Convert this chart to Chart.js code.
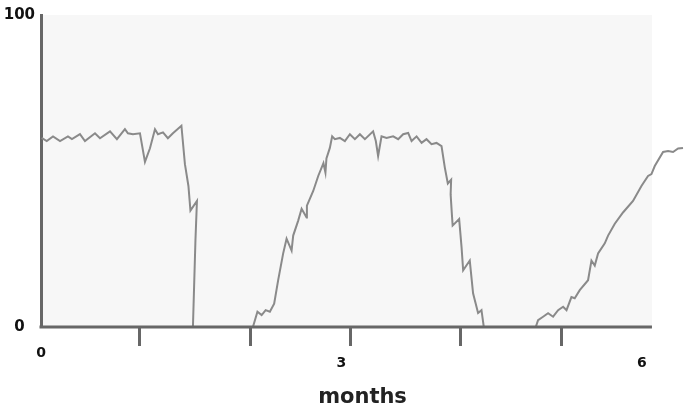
<!DOCTYPE html>
<html>
<head>
<meta charset="utf-8">
<script src="https://cdn.jsdelivr.net/npm/chart.js@4"></script>
<style>
  body { margin: 0; background: #fff; }
</style>
</head>
<body>
<canvas id="chart" width="685" height="408"></canvas>
<script>
// valores (meses / porcentaje)
const months = [
  0.007, 0.057, 0.12, 0.19, 0.269, 0.309, 0.389, 0.439, 0.539, 0.589,
  0.689, 0.758, 0.838, 0.868, 0.918, 0.988, 1.038, 1.088, 1.138, 1.168,
  1.218, 1.267, 1.317, 1.402, 1.437, 1.472, 1.492, 1.557, 1.542, 1.517,
  2.116, 2.161, 2.203, 2.243, 2.285, 2.328, 2.368, 2.418, 2.452, 2.502,
  2.518, 2.568, 2.602, 2.652, 2.655, 2.718, 2.768, 2.82, 2.84, 2.85,
  2.884, 2.907, 2.934, 2.984, 3.034, 3.084, 3.134, 3.184, 3.234, 3.316,
  3.343, 3.366, 3.4, 3.45, 3.516, 3.566, 3.616, 3.666, 3.7, 3.75,
  3.8, 3.849, 3.899, 3.949, 3.999, 4.032, 4.062, 4.095, 4.09, 4.1,
  4.11, 4.175, 4.199, 4.215, 4.281, 4.314, 4.364, 4.398, 4.421,
  4.94, 4.963, 5.013, 5.063, 5.113, 5.163, 5.213, 5.247, 5.296, 5.329,
  5.379, 5.462, 5.496, 5.529, 5.562, 5.629, 5.662, 5.729, 5.811, 5.911,
  5.995, 6.061, 6.095, 6.128, 6.211, 6.261, 6.311, 6.361, 6.41
];
const values = [
  60.6, 59.6, 61.1, 59.6, 61.1, 60.2, 61.8, 59.6, 62.1, 60.5,
  62.7, 60.2, 63.4, 62.1, 61.8, 62.1, 52.9, 57.3, 63.4, 61.8,
  62.4, 60.5, 62.1, 64.5, 52.2, 45.2, 37.3, 40.4, 27.7, 0,
  0, 4.9, 3.8, 5.4, 4.9, 7.5, 15.0, 23.6, 28.3, 24.5,
  29.3, 34.1, 37.9, 35.1, 38.9, 43.6, 48.4, 52.5, 49.5, 54.0,
  57.4, 61.1, 60.2, 60.6, 59.6, 61.8, 60.2, 61.8, 60.2, 62.7,
  59.6, 54.8, 61.1, 60.6, 61.1, 60.2, 61.8, 62.2, 59.6, 61.1,
  59.0, 60.2, 58.6, 59.0, 58.0, 51.1, 46.0, 47.2, 42.5, 37.3,
  32.5, 34.6, 25.6, 18.2, 21.3, 10.8, 4.5, 5.4, 0,
  0, 2.2, 3.3, 4.4, 3.3, 5.4, 6.5, 5.4, 9.6, 9.2,
  11.8, 15.0, 21.3, 19.7, 23.6, 26.8, 29.3, 33.1, 36.7, 40.4,
  45.2, 48.4, 49.0, 51.6, 56.1, 56.4, 56.1, 57.2, 57.4
];

const xLabelTicks = [0, 3, 6];
const xMarkTicks = [0.98, 2.09, 3.09, 4.19, 5.2];
const yTicks = [0, 100];
const axisEnd = 6.1;

const axisColor = "#676767";
const textFont = "'DejaVu Sans', Verdana, sans-serif";

// fondo gris claro y línea del eje x (termina antes que la curva)
const paperPlugin = {
  id: "paper",
  beforeDraw(chart) {
    const { ctx, chartArea: a, scales: { x } } = chart;
    ctx.save();
    ctx.fillStyle = "#f7f7f7";
    ctx.fillRect(a.left, a.top, x.getPixelForValue(axisEnd) - a.left, a.bottom - a.top);
    ctx.restore();
  },
  afterDatasetsDraw(chart) {
    const { ctx, chartArea: a, scales: { x } } = chart;
    ctx.save();
    ctx.strokeStyle = axisColor;
    ctx.lineWidth = 3;
    ctx.beginPath();
    ctx.moveTo(x.getPixelForValue(0) - 1.5, a.bottom);
    ctx.lineTo(x.getPixelForValue(axisEnd), a.bottom);
    ctx.stroke();
    ctx.restore();
  }
};

const points = months.map((m, i) => ({ x: m, y: values[i] }));
const allXTicks = [...xLabelTicks, ...xMarkTicks].sort((a, b) => a - b);

new Chart(document.getElementById("chart"), {
  type: "line",
  data: {
    datasets: [{
      data: points,
      borderColor: "#8a8a8a",
      borderWidth: 2,
      pointRadius: 0,
      tension: 0,
    }],
  },
  options: {
    responsive: false,
    animation: false,
    layout: { padding: { top: 13, right: 1, left: 0, bottom: 0 } },
    plugins: {
      legend: { display: false },
      tooltip: { enabled: false },
    },
    scales: {
      x: {
        type: "linear",
        min: 0,
        max: 6.42,
        afterFit: (s) => { s.height = 81; },
        afterBuildTicks: (s) => { s.ticks = allXTicks.map(v => ({ value: v })); },
        border: { display: false },
        grid: {
          drawOnChartArea: false,
          drawTicks: true,
          tickLength: 19,
          lineWidth: 3,
          color: (ctx) => xLabelTicks.includes(ctx.tick.value) ? "rgba(0,0,0,0)" : axisColor,
        },
        ticks: {
          autoSkip: false,
          maxRotation: 0,
          padding: 0,
          color: "#111",
          font: (ctx) => ({
            family: textFont,
            size: 14,
            weight: "bold",
            lineHeight: ctx.tick && ctx.tick.value === 0 ? 1.07 : 2.43,
          }),
          callback: (v) => xLabelTicks.includes(v) ? String(v) : "",
        },
        title: {
          display: true,
          text: "months",
          color: "#222",
          padding: 0,
          font: { family: textFont, size: 21, weight: "bold", lineHeight: 1 },
        },
      },
      y: {
        min: 0,
        max: 100,
        afterFit: (s) => { s.width = 41; },
        afterBuildTicks: (s) => { s.ticks = yTicks.map(v => ({ value: v })); },
        border: { display: true, color: axisColor, width: 3 },
        grid: { display: false, drawTicks: false },
        ticks: {
          crossAlign: "center",
          padding: 6,
          color: "#111",
          font: { family: textFont, size: 15, weight: "bold" },
        },
      },
    },
  },
  plugins: [paperPlugin],
});
</script>
</body>
</html>
